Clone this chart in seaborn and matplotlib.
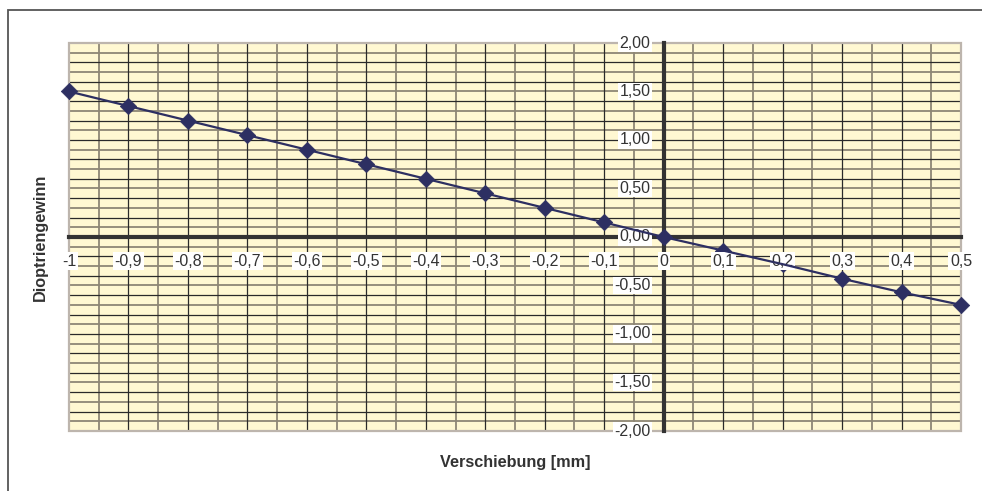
import numpy as np
import pandas as pd
import matplotlib
matplotlib.use("Agg")
import matplotlib.pyplot as plt
from matplotlib.patches import Rectangle
import seaborn as sns

# data
shift_mm = [-1.0, -0.9, -0.8, -0.7, -0.6, -0.5, -0.4, -0.3, -0.2, -0.1,
            0.0, 0.1, 0.2, 0.3, 0.4, 0.5]
diopter_gain = [1.50, 1.35, 1.20, 1.05, 0.90, 0.75, 0.60, 0.45, 0.30, 0.15,
                0.00, -0.14, -0.28, -0.43, -0.57, -0.70]
x_ticks = [-1.0, -0.9, -0.8, -0.7, -0.6, -0.5, -0.4, -0.3, -0.2, -0.1,
           0.0, 0.1, 0.2, 0.3, 0.4, 0.5]
x_tick_labels = ["-1", "-0,9", "-0,8", "-0,7", "-0,6", "-0,5", "-0,4", "-0,3",
                 "-0,2", "-0,1", "0", "0,1", "0,2", "0,3", "0,4", "0,5"]
y_ticks = [-2.0, -1.5, -1.0, -0.5, 0.0, 0.5, 1.0, 1.5, 2.0]
y_tick_labels = ["-2,00", "-1,50", "-1,00", "-0,50", "0,00", "0,50", "1,00", "1,50", "2,00"]

df = pd.DataFrame({"x": shift_mm, "y": diopter_gain})

sns.set_style("white")
plt.rcParams["font.family"] = ["Liberation Sans", "DejaVu Sans"]

W, H = 982, 491
fig = plt.figure(figsize=(W / 100, H / 100), dpi=100)
fig.patch.set_facecolor("white")

# outer chart frame
fig.patches.append(Rectangle((8 / W, 1 - 500 / H), 990 / W, 490 / H,
                             transform=fig.transFigure, fill=False,
                             edgecolor="#555555", linewidth=1.3))

ax = fig.add_axes([69 / W, 1 - 431 / H, 892 / W, 388 / H])
ax.set_facecolor("#FFF8D2")
ax.set_xlim(-1.0, 0.5)
ax.set_ylim(-2.0, 2.0)

# grid lines
for xv in np.arange(-0.95, 0.5, 0.1):
    ax.axvline(xv, color="#8d8775", lw=1.3, zorder=0.5)
for xv in np.arange(-0.9, 0.45, 0.1):
    ax.axvline(xv, color="#2a2a2a", lw=0.9, zorder=0.6)
for yv in np.arange(-1.9, 2.0, 0.1):
    k = int(round(yv * 10))
    if k % 2 == 0:
        ax.axhline(yv, color="#2a2a2a", lw=0.9, zorder=0.6)
    else:
        ax.axhline(yv, color="#8d8775", lw=1.3, zorder=0.5)

# plot-area border
ax.add_patch(Rectangle((0, 0), 1, 1, transform=ax.transAxes, fill=False,
                       edgecolor="#bdb5ad", lw=1.6, zorder=1, clip_on=False))

# series: line above labels, markers below labels
sns.lineplot(data=df, x="x", y="y", ax=ax, color="#2d2f62", lw=1.6,
             zorder=7, clip_on=False)
sns.scatterplot(data=df, x="x", y="y", ax=ax, color="#2d2f62", marker="D",
                s=70, edgecolor="#2d2f62", linewidth=0.5, zorder=4, clip_on=False)

# axes crossing at zero
for s in ["top", "right"]:
    ax.spines[s].set_visible(False)
ax.spines["left"].set_position(("data", 0))
ax.spines["bottom"].set_position(("data", 0))
for s in ["left", "bottom"]:
    ax.spines[s].set_color("#333333")
    ax.spines[s].set_linewidth(3)
    ax.spines[s].set_zorder(3)

ax.set_xticks(x_ticks)
ax.set_yticks(y_ticks)
ax.tick_params(axis="both", direction="out", length=4, width=2.5, color="#333333",
               labelbottom=False, labelleft=False)

box = dict(facecolor="white", edgecolor="none", pad=1.0)
for xv, lab in zip(x_ticks, x_tick_labels):
    ax.annotate(lab, xy=(xv, 0), xytext=(0, -17.5), textcoords="offset points",
                ha="center", va="center", fontsize=11.5, color="#333333",
                bbox=box, zorder=6, annotation_clip=False)
for yv, lab in zip(y_ticks, y_tick_labels):
    ax.annotate(lab, xy=(0, yv), xytext=(-9.5, 0), textcoords="offset points",
                ha="right", va="center", fontsize=11.5, color="#333333",
                bbox=box, zorder=6, annotation_clip=False)

ax.set_xlabel("")
ax.set_ylabel("")
fig.text(515 / W, 1 - 462 / H, "Verschiebung [mm]", ha="center", va="center",
         fontsize=11.7, fontweight="bold", color="#333333")
fig.text(40 / W, 1 - 237 / H, "Dioptriengewinn", ha="center", va="center",
         rotation=90, fontsize=11.7, fontweight="bold", color="#333333")

fig.savefig("out.png", dpi=100)
